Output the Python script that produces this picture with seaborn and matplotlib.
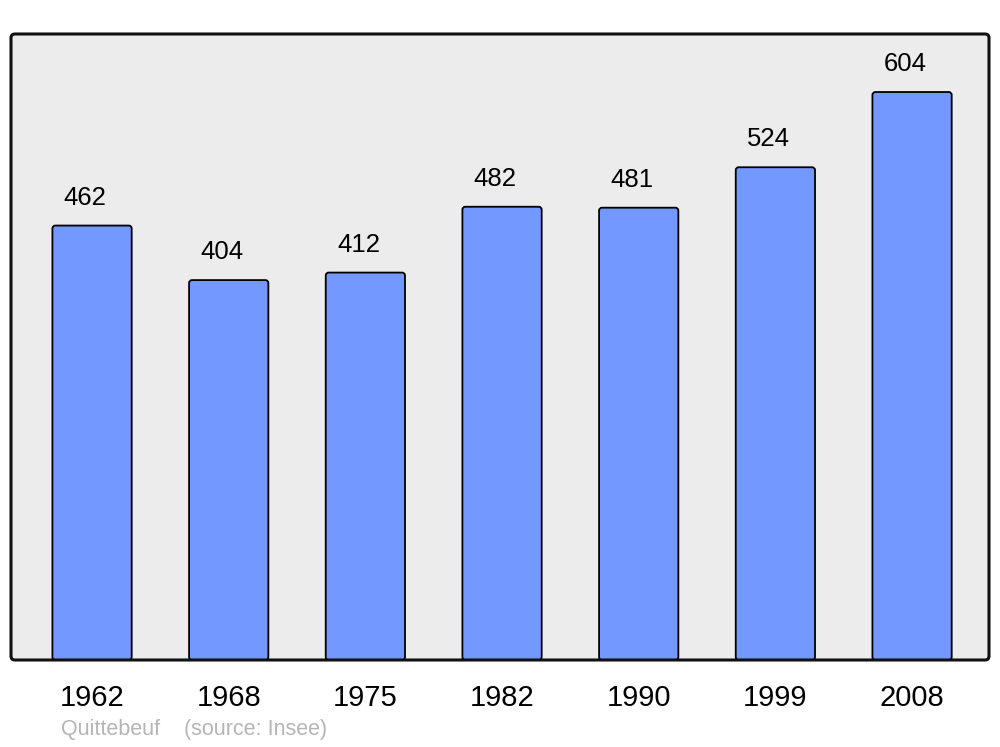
import matplotlib
matplotlib.use("Agg")
import matplotlib.pyplot as plt
from matplotlib.patches import FancyBboxPatch
import seaborn as sns
import pandas as pd

years = ["1962", "1968", "1975", "1982", "1990", "1999", "2008"]
population = [462, 404, 412, 482, 481, 524, 604]
commune = "Quittebeuf"
source = "(source: Insee)"

sns.set_style("white")
plt.rcParams["font.family"] = ["Liberation Sans", "DejaVu Sans"]

W, H = 1000, 747
fig = plt.figure(figsize=(W / 100, H / 100), dpi=100)
ax = fig.add_axes([11 / W, 1 - 660 / H, 978 / W, 626 / H])

df = pd.DataFrame({"year": years, "pop": population})
sns.barplot(data=df, x="year", y="pop", color="#7398ff", saturation=1,
            width=0.58, edgecolor="black", linewidth=1.3, ax=ax, zorder=2)

ax.set_xlim(-0.593, 6.563)
ax.set_ylim(0, 665.7)
ax.set_facecolor("none")
for s in ax.spines.values():
    s.set_visible(False)

# rounded bars
px_x = 978 / (6.563 + 0.593)
px_y = 626 / 665.7
r = 3 / px_x
for p in list(ax.patches):
    x, y = p.get_x(), p.get_y()
    w, h = p.get_width(), p.get_height()
    p.set_visible(False)
    fb = FancyBboxPatch((x, y), w, h, boxstyle=f"round,pad=0,rounding_size={r}",
                        mutation_aspect=px_x / px_y, facecolor="#7398ff",
                        edgecolor="black", linewidth=1.3, zorder=2)
    ax.add_patch(fb)

# rounded frame
ra = 4 / 978
asp = 978 / 626
ax.add_patch(FancyBboxPatch((0, 0), 1, 1, boxstyle=f"round,pad=0,rounding_size={ra}",
                            mutation_aspect=asp, transform=ax.transAxes,
                            facecolor="#ececec", edgecolor="none", zorder=0, clip_on=False))
ax.add_patch(FancyBboxPatch((0, 0), 1, 1, boxstyle=f"round,pad=0,rounding_size={ra}",
                            mutation_aspect=asp, transform=ax.transAxes,
                            facecolor="none", edgecolor="#111111", linewidth=2.2,
                            zorder=5, clip_on=False))

for i, v in enumerate(population):
    ax.annotate(str(v), (i, v), xytext=(-5, 20), textcoords="offset points",
                ha="center", va="center", fontsize=18.5, color="black")

ax.set_xlabel("")
ax.set_ylabel("")
ax.set_yticks([])
ax.tick_params(axis="x", length=0, pad=17, labelsize=21, labelcolor="black")

fig.text(61 / W, 1 - 730 / H, commune, fontsize=15.5, color="#b5b5b5", va="center", ha="left")
fig.text(184 / W, 1 - 730 / H, source, fontsize=15.5, color="#b5b5b5", va="center", ha="left")

fig.savefig("out.png", dpi=100)
